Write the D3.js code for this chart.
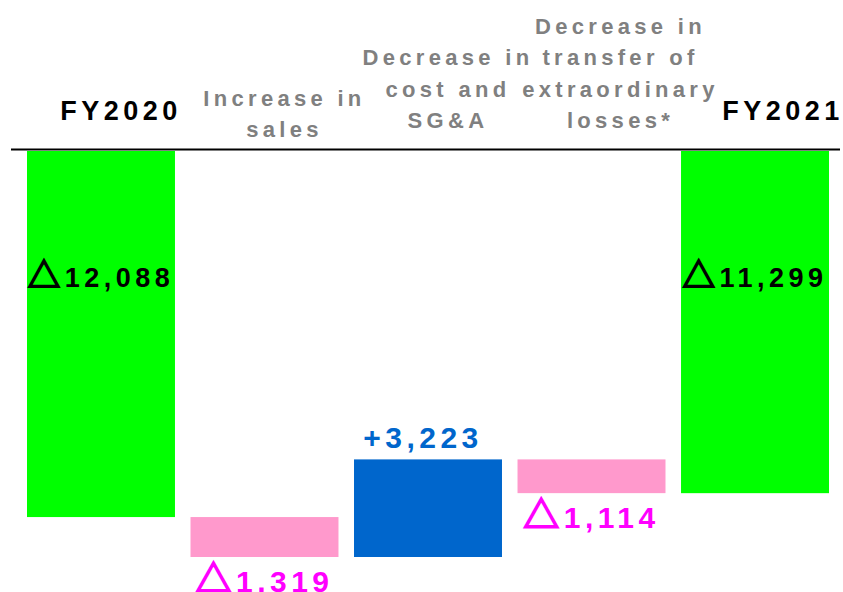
<!DOCTYPE html>
<html>
<head>
<meta charset="utf-8">
<script src="https://cdn.jsdelivr.net/npm/d3@7"></script>
<style>
  body { margin: 0; background: #fff; }
  text { font-family: "Liberation Sans", "Noto Sans CJK JP", sans-serif; font-weight: bold; }
</style>
</head>
<body>
<script>
// waterfall of the two fiscal years
var categories = ["FY2020", "Increase in sales", "Decrease in cost and SG&A", "Decrease in transfer of extraordinary losses*", "FY2021"];
var headerLines = [["FY2020"], ["Increase in", "sales"], ["Decrease in", "cost and", "SG&A"], ["Decrease in", "transfer of", "extraordinary", "losses*"], ["FY2021"]];
var values = [-12088, -1319, 3223, -1114, -11299];
var barKinds = ["total", "delta", "delta", "delta", "total"];
var valueLabels = ["12,088", "1,319", "3,223", "1,114", "11,299"];

var w = 843, h = 592;

var svg = d3.select('body').append('svg')
    .attr('width', w)
    .attr('height', h);

// running totals -> start / end of every bar
var bars = [];
var running = 0;
values.forEach(function (v, i) {
  var start, end;
  if (barKinds[i] === "total") {
    start = 0; end = v; running = v;
  } else {
    start = running; end = running + v; running = end;
  }
  bars.push({ cat: categories[i], i: i, value: v, start: start, end: end, kind: barKinds[i] });
});

var xScale = d3.scaleBand()
    .domain(categories)
    .range([27, 829])
    .paddingInner(0.095)
    .paddingOuter(0);

var yScale = d3.scaleLinear()
    .domain([0, d3.min(bars, function (d) { return Math.min(d.start, d.end); })])
    .range([151, 557]);

var fill = function (d) {
  if (d.kind === "total") return "#00ff00";
  return d.value < 0 ? "#ff99cc" : "#0066cc";
};

svg.selectAll('rect.bar')
  .data(bars)
  .enter()
  .append('rect')
  .attr('class', 'bar')
  .attr('x', function (d) { return xScale(d.cat); })
  .attr('width', xScale.bandwidth())
  .attr('y', function (d) { return yScale(Math.max(d.start, d.end)); })
  .attr('height', function (d) { return Math.abs(yScale(d.end) - yScale(d.start)); })
  .attr('fill', fill);

// zero line
svg.append('line')
  .attr('x1', 11).attr('x2', 840)
  .attr('y1', yScale(0) - 1.5).attr('y2', yScale(0) - 1.5)
  .attr('stroke', '#000')
  .attr('stroke-width', 2);

// header labels (slightly right of the bar centres, like the slide)
var lineH = 31.5;
var headerShift = [20, 20, 20, 29, 28];
headerLines.forEach(function (lines, i) {
  var isTotal = barKinds[i] === "total";
  var cx = xScale(categories[i]) + xScale.bandwidth() / 2 + headerShift[i];
  var bottom = isTotal ? 120 : (lines.length === 2 ? 137 : 128);
  var t = svg.append('text')
    .attr('text-anchor', 'middle')
    .attr('fill', isTotal ? '#000' : '#808080')
    .attr('font-size', isTotal ? '27px' : '22px')
    .attr('letter-spacing', isTotal ? '4.5px' : '4.3px');
  lines.forEach(function (ln, k) {
    t.append('tspan')
      .attr('x', cx)
      .attr('y', bottom - (lines.length - 1 - k) * lineH)
      .text(ln);
  });
});

var labelColor = function (d) {
  if (d.kind === "total") return '#000';
  return d.value < 0 ? '#ff00ff' : '#0066cc';
};

// value labels: sign glyph (triangle for minus) + number
var vals = svg.selectAll('text.val')
  .data(bars)
  .enter()
  .append('text')
  .attr('class', 'val')
  .attr('text-anchor', 'middle')
  .attr('x', function (d) { return xScale(d.cat) + xScale.bandwidth() / 2 + (d.value > 0 ? -5 : 0); })
  .attr('y', function (d) {
    if (d.kind === "total") return yScale(-4500);
    if (d.value > 0) return yScale(Math.max(d.start, d.end)) - 11;
    return yScale(Math.min(d.start, d.end)) + 35;
  })
  .attr('fill', labelColor)
  .attr('font-size', function (d) { return d.kind === "total" ? '27px' : '30px'; })
  .attr('letter-spacing', '4.5px');

vals.append('tspan')
  .attr('font-family', function (d) { return d.value < 0 ? '"Noto Sans CJK JP", sans-serif' : null; })
  .attr('font-size', function (d) { return d.value < 0 ? '1.2em' : null; })
  .attr('stroke', function (d) { return d.value < 0 ? labelColor(d) : null; })
  .attr('stroke-width', function (d) { return d.value < 0 ? 1.8 : null; })
  .text(function (d) { return d.value < 0 ? '△' : '+'; });

vals.append('tspan')
  .text(function (d, i) { return valueLabels[i]; });
</script>
</body>
</html>
